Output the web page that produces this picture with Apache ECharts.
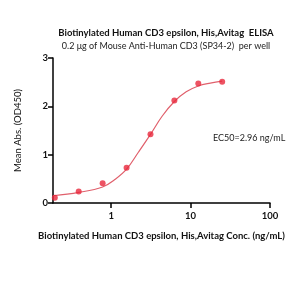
<!DOCTYPE html>
<html><head><meta charset="utf-8">
<script src="https://cdn.jsdelivr.net/npm/echarts@6/dist/echarts.min.js"></script>
<style>html,body{margin:0;padding:0;background:#fff}#c{width:300px;height:300px}</style>
</head><body><div id="c"></div>
<script>
const concentrations = [0.195, 0.39, 0.78, 1.5625, 3.125, 6.25, 12.5, 25];
const meanAbs = [0.11, 0.24, 0.41, 0.73, 1.42, 2.12, 2.47, 2.51];
const fitConc = [0.185, 0.39, 0.78, 1.1, 1.5625, 2.2, 3.125, 4.4, 6.25, 8.8, 12.5, 17.7, 25];
const fitAbs = [0.15, 0.22, 0.33, 0.48, 0.70, 1.05, 1.42, 1.80, 2.10, 2.30, 2.42, 2.48, 2.52];
const xTicks = [1, 10, 100];
const yTicks = [0, 1, 2, 3];
const titleText = 'Biotinylated Human CD3 epsilon, His,Avitag  ELISA';
const subtitleText = '0.2 \u03bcg of Mouse Anti-Human CD3 (SP34-2)  per well';
const xTitle = 'Biotinylated Human CD3 epsilon, His,Avitag Conc. (ng/mL)';
const yTitle = 'Mean Abs. (OD450)';
const ec50Text = 'EC50=2.96 ng/mL';

const font = 'Lato, "Open Sans", sans-serif';
const chart = echarts.init(document.getElementById('c'), null, {renderer: 'canvas'});
chart.setOption({
  animation: false,
  backgroundColor: '#fff',
  title: [
    {text: titleText, left: 161, top: 23, textAlign: 'center',
     textStyle: {fontFamily: font, fontSize: 9.5, fontWeight: 'bold', color: '#111'}},
    {text: subtitleText, left: 161, top: 37, textAlign: 'center',
     textStyle: {fontFamily: font, fontSize: 9, fontWeight: 'normal', color: '#222'}}
  ],
  grid: {left: 53, right: 30, top: 58, bottom: 97, containLabel: false},
  xAxis: {
    type: 'log', logBase: 10, min: 0.185, max: 100,
    name: xTitle, nameLocation: 'middle', nameGap: 28,
    nameTextStyle: {fontFamily: font, fontSize: 9.5, fontWeight: 'bold', color: '#111'},
    axisLine: {show: true, lineStyle: {color: '#000', width: 1.5}},
    axisTick: {show: true, inside: false, length: 5, lineStyle: {color: '#000', width: 1.5}, customValues: xTicks},
    axisLabel: {fontFamily: font, fontSize: 9.5, fontWeight: 'bold', color: '#111', margin: 8, customValues: xTicks},
    minorTick: {show: false},
    splitLine: {show: false}
  },
  yAxis: {
    type: 'value', min: 0, max: 3, interval: 1,
    name: yTitle, nameLocation: 'middle', nameGap: 30, nameRotate: 90,
    nameTextStyle: {fontFamily: font, fontSize: 9.5, color: '#111'},
    axisLine: {show: true, lineStyle: {color: '#000', width: 1.5}},
    axisTick: {show: true, inside: false, length: 5, lineStyle: {color: '#000', width: 1.5}},
    axisLabel: {fontFamily: font, fontSize: 9.5, fontWeight: 'bold', color: '#111', margin: 5},
    splitLine: {show: false}
  },
  series: [
    {type: 'line', data: fitConc.map((c, i) => [c, fitAbs[i]]), smooth: 0.4, showSymbol: false,
     lineStyle: {color: '#e0606c', width: 1.2}, z: 2},
    {type: 'scatter', data: concentrations.map((c, i) => [c, meanAbs[i]]), symbol: 'circle', symbolSize: 6,
     itemStyle: {color: '#e8283c'}, z: 3}
  ],
  graphic: [
    {type: 'text', left: 213, top: 134,
     style: {text: ec50Text, font: '9px ' + font, fill: '#222'}}
  ]
});
</script></body></html>
